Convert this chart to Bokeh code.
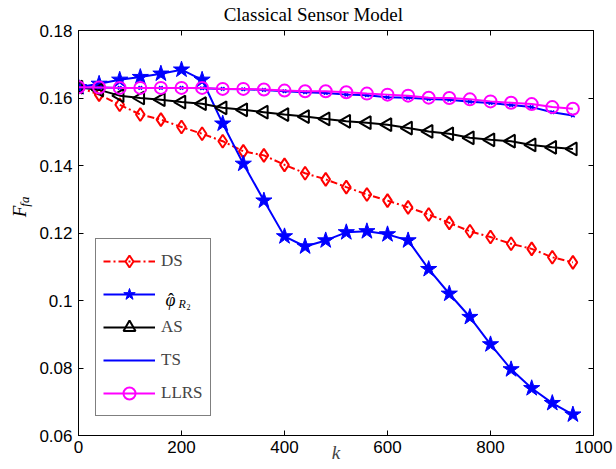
import math
from bokeh.plotting import figure
from bokeh.models import (Range1d, FixedTicker, LinearAxis, Legend, LegendItem,
                          Label, CustomJSTickFormatter)
from bokeh.embed import file_html
from bokeh.resources import INLINE

# ---------------- data ----------------
k = [0, 40, 80, 120, 160, 200, 240, 280, 320, 360, 400, 440, 480, 520, 560,
     600, 640, 680, 720, 760, 800, 840, 880, 920, 960]
ds = [0.1632, 0.1610, 0.1580, 0.1551, 0.1536, 0.1514, 0.1494, 0.1472, 0.1442,
      0.1430, 0.1402, 0.1377, 0.1359, 0.1336, 0.1314, 0.1296, 0.1276, 0.1255,
      0.1230, 0.1205, 0.1188, 0.1168, 0.1153, 0.1128, 0.1113]
phi = [0.1632, 0.1642, 0.1654, 0.1662, 0.1672, 0.1684, 0.1654, 0.1524, 0.1405,
       0.1296, 0.1190, 0.1160, 0.1178, 0.1202, 0.1205, 0.1196, 0.1178, 0.1093,
       0.1020, 0.0951, 0.0870, 0.0796, 0.0740, 0.0696, 0.0662]
as_vals = [0.1632, 0.1624, 0.1607, 0.1600, 0.1595, 0.1588, 0.1583, 0.1571, 0.1565,
           0.1558, 0.1551, 0.1545, 0.1538, 0.1531, 0.1527, 0.1521, 0.1511, 0.1501,
           0.1494, 0.1482, 0.1476, 0.1472, 0.1461, 0.1454, 0.1449]
ts = [0.1631, 0.1631, 0.1630, 0.1630, 0.1630, 0.1630, 0.1629, 0.1627, 0.1626,
      0.1624, 0.1620, 0.1617, 0.1615, 0.1610, 0.1608, 0.1602, 0.1601, 0.1597,
      0.1595, 0.1589, 0.1585, 0.1579, 0.1573, 0.1558, 0.1548]
llrs = [0.1632, 0.1631, 0.1630, 0.1630, 0.1630, 0.1630, 0.1630, 0.1627, 0.1627,
        0.1625, 0.1622, 0.1620, 0.1620, 0.1617, 0.1613, 0.1610, 0.1607, 0.1601,
        0.1600, 0.1596, 0.1590, 0.1586, 0.1582, 0.1573, 0.1568]
x_ticks = [0, 200, 400, 600, 800, 1000]
y_ticks = [0.06, 0.08, 0.1, 0.12, 0.14, 0.16, 0.18]
labels = ["DS", " ", "AS", "TS", "LLRS"]
title_text = "Classical Sensor Model"

SERIF = "Liberation Serif"
SANS = "Liberation Sans"

p = figure(frame_width=515, frame_height=405,
           min_border_left=78, min_border_right=23,
           min_border_top=30, min_border_bottom=34,
           x_range=Range1d(0, 1000), y_range=Range1d(0.06, 0.18),
           output_backend="svg", toolbar_location=None)
p.xgrid.visible = False
p.ygrid.visible = False
p.outline_line_color = "black"
p.background_fill_color = "white"
p.border_fill_color = "white"

p.add_layout(LinearAxis(), "above")
p.add_layout(LinearAxis(), "right")

for ax in p.xaxis:
    ax.ticker = FixedTicker(ticks=x_ticks)
for ax in p.yaxis:
    ax.ticker = FixedTicker(ticks=y_ticks)
    ax.formatter = CustomJSTickFormatter(code="return (Math.round(tick*100)/100).toString();")

for ax in list(p.xaxis) + list(p.yaxis):
    ax.major_tick_in = 5
    ax.major_tick_out = 0
    ax.minor_tick_line_color = None
    ax.axis_line_color = "black"
    ax.major_tick_line_color = "black"
    ax.major_label_text_font = SANS
    ax.major_label_text_font_size = "17px"
    ax.major_label_text_color = "black"

for ax in (p.above[0], p.right[0]):
    ax.formatter = CustomJSTickFormatter(code="return '';")
    ax.major_label_text_font_size = "1px"
    ax.major_label_standoff = 0

p.xaxis[0].major_label_standoff = 6
p.yaxis[0].major_label_standoff = 6

# x-axis label
xa = p.below[0]
xa.axis_label = "k"
xa.axis_label_text_font = SERIF
xa.axis_label_text_font_style = "italic"
xa.axis_label_text_font_size = "19px"
xa.axis_label_standoff = -14

# ---------------- series ----------------
r_ds_l = p.line(k, ds, line_color="#ff0000", line_width=2, line_dash="7 3 2 3")
r_ds_m = p.scatter(k, ds, marker="diamond", size=13,
                   line_color="#ff0000", line_width=2, fill_alpha=0)

r_phi_l = p.line(k, phi, line_color="#0000ff", line_width=2)
r_phi_m = p.scatter(k, phi, marker="star", size=17, line_color="#0000ff",
                    fill_color="#0000ff", line_width=1)

r_as_l = p.line(k, as_vals, line_color="black", line_width=2)
r_as_m = p.scatter(k, as_vals, marker="triangle", size=13, angle=math.pi / 2,
                   line_color="black", line_width=2, fill_alpha=0)

r_ts_l = p.line(k, ts, line_color="#0000ff", line_width=2)
r_ts_m = p.scatter(k, ts, marker="x", size=5, line_color="#0000ff", line_width=1.5)

r_ll_l = p.line(k, llrs, line_color="#ff00ff", line_width=2)
r_ll_m = p.scatter(k, llrs, marker="circle", size=12, line_color="#ff00ff",
                   line_width=2, fill_alpha=0)

legend = Legend(items=[
    LegendItem(label=labels[0], renderers=[r_ds_l, r_ds_m]),
    LegendItem(label=labels[1], renderers=[r_phi_l, r_phi_m]),
    LegendItem(label=labels[2], renderers=[r_as_l, r_as_m]),
    LegendItem(label=labels[3], renderers=[r_ts_l]),
    LegendItem(label=labels[4], renderers=[r_ll_l, r_ll_m]),
], location=(17, 19))
legend.glyph_width = 52
legend.glyph_height = 30
legend.label_height = 30
legend.spacing = 3
legend.padding = 7
legend.margin = 0
legend.label_standoff = 6
legend.label_text_font = SERIF
legend.label_text_font_size = "17px"
legend.border_line_color = "black"
legend.border_line_width = 1
legend.background_fill_alpha = 0
p.add_layout(legend)

# ---------------- texts ----------------
def lab(text, x, y, size, style="normal", angle=0, align="center",
        baseline="middle", units="screen", place="center"):
    lbl = Label(text=text, x=x, y=y, x_units=units, y_units=units,
                text_font=SERIF, text_font_size=size, text_font_style=style,
                text_align=align, text_baseline=baseline, angle=angle,
                text_color="black")
    p.add_layout(lbl, place)

# title (side panel above the frame, so it is not clipped)
lab(title_text, 456, 0.1847, "19px", baseline="middle", units="data", place="above")

# y-axis label F_fa (placed in the left side panel so it is not clipped)
lab("F", -113.6, 0.1264, "19px", style="italic", angle=math.pi / 2,
    units="data", place="left")
lab("fa", -103.9, 0.1293, "13px", style="italic", angle=math.pi / 2,
    units="data", place="left")

# legend entry: phi-hat with subscript R_2
lab("\u03c6", 87, 136, "18px", style="italic", align="left", baseline="alphabetic")
lab("\u02c6", 92.5, 136, "18px", align="center", baseline="alphabetic")
lab("R", 100, 131.5, "12px", style="italic", align="left", baseline="alphabetic")
lab("2", 108, 129, "8px", align="left", baseline="alphabetic")

open("out.html", "w").write(file_html(p, INLINE))
